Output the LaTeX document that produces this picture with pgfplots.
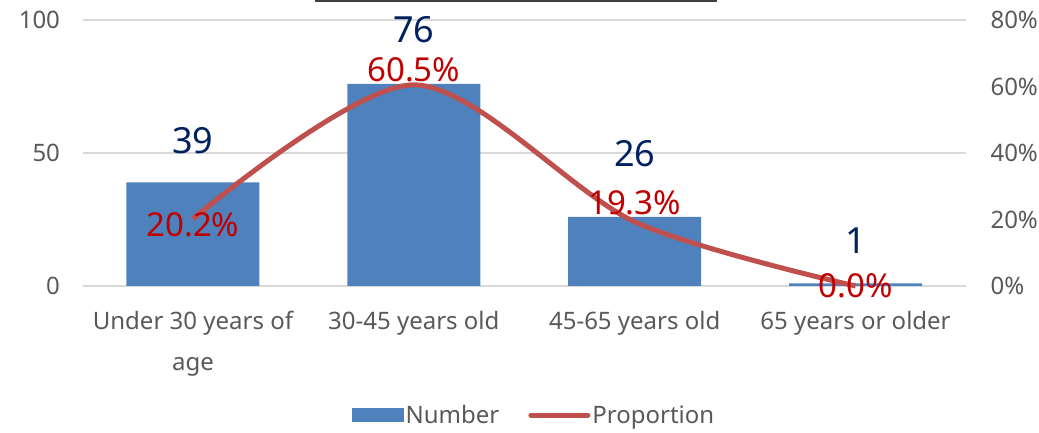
\documentclass[border=0pt]{standalone}
\usepackage{pgfplots}
\pgfplotsset{compat=1.18}
\usepackage{pgfplotstable}
\usepackage{fontspec}
\setmainfont{Noto Sans}
\definecolor{barblue}{HTML}{4F81BD}
\definecolor{linered}{HTML}{C0504D}
\definecolor{navy}{HTML}{002060}
\definecolor{labred}{HTML}{C00000}
\definecolor{gridgray}{HTML}{D9D9D9}
\definecolor{ticktext}{HTML}{595959}

\pgfplotstableread{
x y off
0 39 42
1 76 54
2 26 63
3 1 43
}\bars
\pgfplotstableread{
x y lab off
0 0.202 20.2 -6
1 0.605 60.5 15
2 0.193 19.3 19
3 0.000 0.0 0
}\props

\begin{document}
\begin{tikzpicture}[x=1pt,y=1pt]
\useasboundingbox (0,0) rectangle (1039,433);
\draw[line width=3pt, color=black!75] (315,432) -- (717,432);
\begin{axis}[
  at={(82.5pt,147pt)}, anchor=south west, scale only axis,
  width=883.5pt, height=266pt,
  xmin=-0.5, xmax=3.5, ymin=0, ymax=100,
  ytick={0,50,100}, xtick={0,1,2,3},
  xticklabels={{Under 30 years of\\age},{30-45 years old},{45-65 years old},{65 years or older}},
  axis line style={draw=none}, major tick style={draw=none},
  ymajorgrids, grid style={gridgray, line width=1.5pt},
  tick label style={font=\fontsize{24}{41}\selectfont, text=ticktext},
  xticklabel style={align=center, anchor=north, yshift=-22pt},
  yticklabel style={anchor=east, xshift=-19pt},
  /pgf/number format/assume math mode=true,
  clip=false,
  legend style={at={(0.511,-0.485)}, anchor=center, draw=none, fill=none,
    legend columns=2, font=\fontsize{24}{28}\selectfont, text=ticktext,
    nodes={inner sep=2pt},
    /tikz/every even column/.append style={column sep=27pt}},
]
\addplot[ybar, bar width=133pt, fill=barblue, draw=none,
  nodes near coords, point meta=y,
  visualization depends on={\thisrow{off}\as\myoff},
  every node near coord/.append style={anchor=center, yshift=\myoff pt, font=\fontsize{36}{40}\selectfont, text=navy},
  legend image code/.code={\fill[barblue] (0pt,-7pt) rectangle (52pt,7pt);}
  ] table[x=x,y=y]{\bars};
\addlegendentry{Number}
\addlegendimage{legend image code/.code={\draw[linered, line width=5pt, line cap=round] (0pt,0pt) -- (57pt,0pt);}}
\addlegendentry{Proportion}
\end{axis}
\begin{axis}[
  at={(82.5pt,147pt)}, anchor=south west, scale only axis,
  width=883.5pt, height=266pt,
  xmin=-0.5, xmax=3.5, ymin=0, ymax=0.8,
  hide x axis, axis y line*=right,
  axis line style={draw=none}, major tick style={draw=none},
  ytick={0,0.2,0.4,0.6,0.8}, yticklabels={0\%,20\%,40\%,60\%,80\%},
  tick label style={font=\fontsize{24}{28}\selectfont, text=ticktext},
  yticklabel style={anchor=west, xshift=21pt},
  clip=false,
]
\addplot[smooth, linered, line width=5pt,
  nodes near coords={\pgfplotspointmeta\%}, point meta=explicit symbolic,
  visualization depends on={\thisrow{off}\as\myoff},
  every node near coord/.append style={anchor=center, yshift=\myoff pt, font=\fontsize{33}{36}\selectfont, text=labred}
  ] table[x=x,y=y,meta=lab]{\props};
\end{axis}
\end{tikzpicture}
\end{document}
